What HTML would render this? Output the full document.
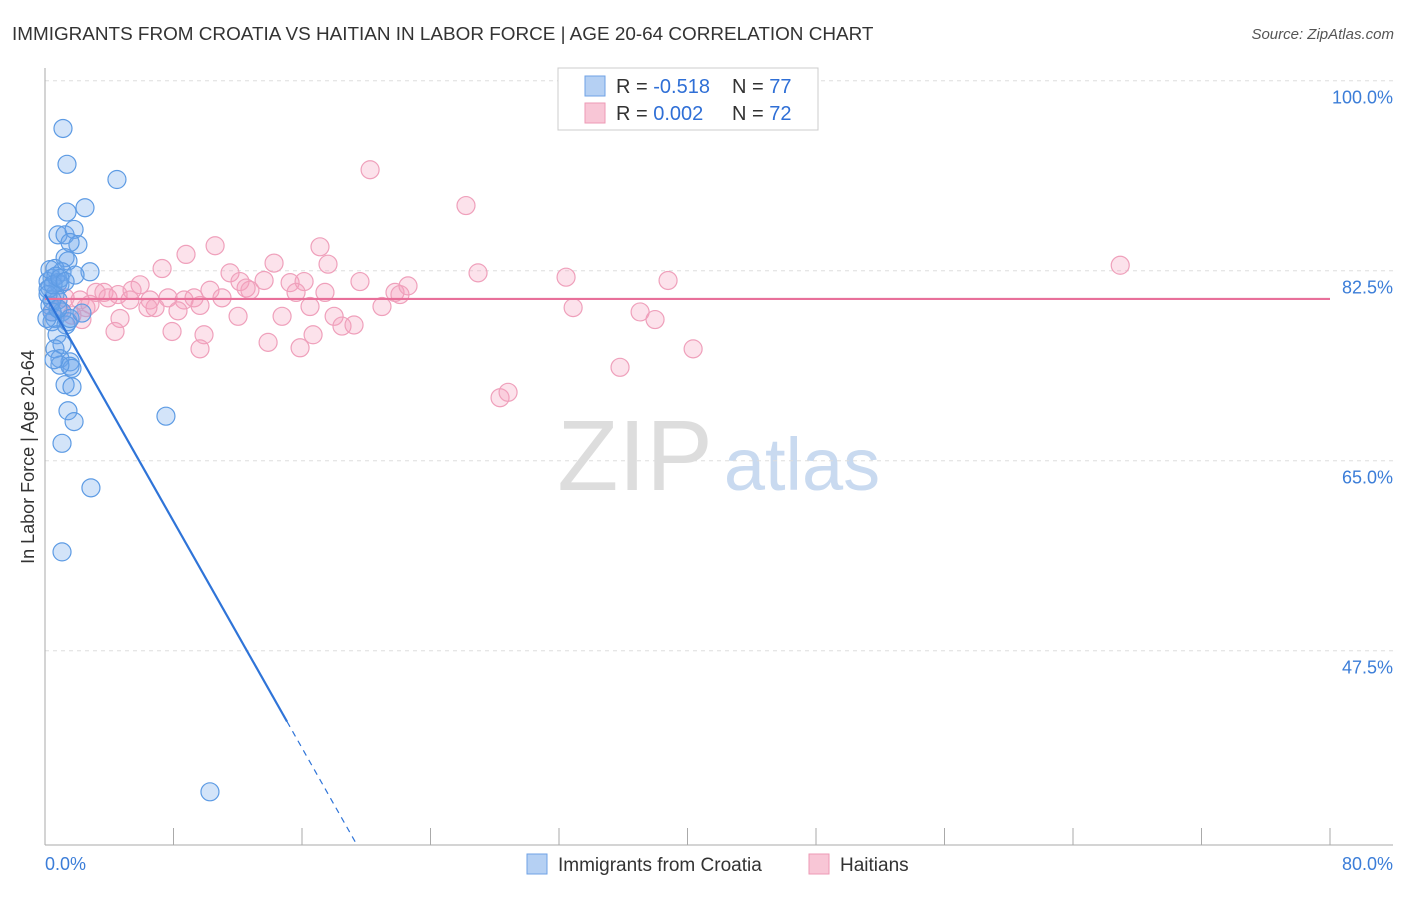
<!DOCTYPE html>
<html><head><meta charset="utf-8">
<style>
body{margin:0;background:#fff;font-family:"Liberation Sans",sans-serif;}
svg text{font-family:"Liberation Sans",sans-serif;}
</style></head>
<body>
<svg id="chart" width="1406" height="892" viewBox="0 0 1406 892" xmlns="http://www.w3.org/2000/svg">
<text x="12" y="40" font-size="18.9" fill="#333">IMMIGRANTS FROM CROATIA VS HAITIAN IN LABOR FORCE | AGE 20-64 CORRELATION CHART</text>
<text x="1394" y="39" font-size="15" fill="#555" text-anchor="end" font-style="italic">Source: ZipAtlas.com</text>
<text x="34" y="457" font-size="18" fill="#333" text-anchor="middle" transform="rotate(-90 34 457)">In Labor Force | Age 20-64</text>
<g>
<text x="635" y="490" font-size="100" fill="#ddd" text-anchor="middle" font-family="Liberation Serif,serif">ZIP</text>
<text x="802" y="490" font-size="74" fill="#c9daf0" text-anchor="middle">atlas</text>
</g>
<g id="grid"></g>
<g id="axes"></g>
<g id="pts"></g>
<g id="lines"></g>
<g>
<rect x="558" y="68" width="260" height="62" fill="#fff" stroke="#ccc"/>
<rect x="585" y="76" width="20" height="20" fill="#b5d0f3" stroke="#6fa2e6"/>
<text x="616" y="93" font-size="20" fill="#333">R = <tspan fill="#2f6fd6">-0.518</tspan></text>
<text x="732" y="93" font-size="20" fill="#333">N = <tspan fill="#2f6fd6">77</tspan></text>
<rect x="585" y="103" width="20" height="20" fill="#f8c6d6" stroke="#ee9ab5"/>
<text x="616" y="120" font-size="20" fill="#333">R = <tspan fill="#2f6fd6"> 0.002</tspan></text>
<text x="732" y="120" font-size="20" fill="#333">N = <tspan fill="#2f6fd6">72</tspan></text>
</g>
<g>
<rect x="527" y="854" width="20" height="20" fill="#b5d0f3" stroke="#6fa2e6"/>
<text x="558" y="871" font-size="19" fill="#333">Immigrants from Croatia</text>
<rect x="809" y="854" width="20" height="20" fill="#f8c6d6" stroke="#ee9ab5"/>
<text x="840" y="871" font-size="19" fill="#333">Haitians</text>
</g>
</svg>
<script>
const yTicks=[100,82.5,65,47.5];
const yTickLabels=["100.0%","82.5%","65.0%","47.5%"];
const xTickLabels=["0.0%","80.0%"];
const croatiaX=[1.12,1.37,4.48,1.37,2.49,0.81,1.25,1.81,2.05,1.56,1.25,1.43,0.62,1.06,2.80,1.87,0.44,0.81,0.31,0.93,0.62,0.81,0.31,1.06,0.62,0.44,1.31,1.43,1.56,2.30,0.75,1.06,0.62,1.56,0.93,1.56,1.68,0.93,0.56,1.25,1.68,1.43,1.81,1.06,7.53,2.86,1.06,10.27,0.44,0.19,0.19,0.31,0.68,0.44,0.19,0.5,0.93,1.25,0.12,0.81];
const croatiaY=[95.6,92.3,90.9,87.9,88.3,85.8,85.8,86.3,84.9,85.1,83.7,83.4,82.7,82.4,82.4,82.1,81.8,81.4,80.9,81.2,80.3,79.8,79.3,78.7,78.1,77.8,77.5,77.8,78.1,78.6,76.6,75.7,75.3,74.1,74.4,73.7,73.5,73.8,74.3,72.0,71.8,69.6,68.6,66.6,69.1,62.5,56.6,34.5,79.8,81.5,80.8,82.6,82.0,78.7,80.3,81.2,81.8,81.5,78.1,79.0];
const haitiX=[20.24,26.21,8.78,10.59,17.12,7.29,14.26,17.62,11.52,26.96,32.44,38.79,66.94,5.92,3.18,3.67,4.55,5.42,6.54,7.66,8.66,9.28,10.27,11.02,12.14,12.76,13.64,15.26,16.13,15.63,17.43,19.61,21.79,22.10,22.60,4.67,6.85,6.41,8.28,9.65,12.02,14.76,18.0,20.98,32.88,37.05,37.98,4.36,7.91,9.9,9.65,13.89,15.88,16.69,18.49,19.24,40.35,35.8,28.33,28.83,2.18,1.68,2.55,2.80,0.93,1.25,2.30,3.92,5.29,12.52,16.5,0.44];
const haitiY=[91.8,88.5,84.0,84.8,84.7,82.7,83.2,83.1,82.3,82.3,81.9,81.6,83.0,81.2,80.5,80.5,80.3,80.7,79.8,80.0,79.8,80.0,80.7,80.0,81.5,80.7,81.6,81.4,81.5,80.5,80.5,81.5,80.5,80.3,81.1,78.1,79.1,79.1,78.8,79.3,78.3,78.3,78.3,79.2,79.1,78.7,78.0,76.9,76.9,76.6,75.3,75.9,75.4,76.6,77.4,77.5,75.3,73.6,70.8,71.3,79.8,78.4,79.1,79.4,78.9,80.0,78.0,80.0,79.8,80.9,79.2,78.7];
const croatiaTrend=[80.3,-2.61];
const haitiTrend=[79.9,0];

const NS="http://www.w3.org/2000/svg";
const X0=45,X1=1330,XMAX=80,YTOP=80.7,PXPER=10.857,YBOT=845;
const sx=v=>X0+v*(X1-X0)/XMAX;
const sy=v=>YTOP+(100-v)*PXPER;
const yMin=100-(YBOT-YTOP)/PXPER;
function mk(tag,attrs,parent){const e=document.createElementNS(NS,tag);for(const k in attrs)e.setAttribute(k,attrs[k]);parent.appendChild(e);return e;}
const grid=document.getElementById('grid'),axes=document.getElementById('axes'),pts=document.getElementById('pts'),lines=document.getElementById('lines');
yTicks.forEach((t,i)=>{
 const l=mk('line',{x1:X0,x2:1393,y1:sy(t),y2:sy(t),stroke:'#ddd','stroke-dasharray':'4 4'},grid);
 
 
 const tx=mk('text',{x:1393,y:sy(t)+23,'font-size':18,fill:'#3b7dd8','text-anchor':'end'},axes);
 tx.textContent=yTickLabels[i];
 
 
});
const ya=mk('line',{x1:X0,x2:X0,y1:68,y2:YBOT,stroke:'#aaa'},axes);


const xa=mk('line',{x1:X0,x2:1393,y1:YBOT,y2:YBOT,stroke:'#aaa'},axes);


for(let i=0;i<=10;i++){
 const v=i*8;
 const t=mk('line',{x1:sx(v),x2:sx(v),y1:828,y2:YBOT,stroke:'#aaa'},axes);
 
 
}
[[0,'start',X0],[1,'end',1393]].forEach(([i,a,x])=>{
 const tx=mk('text',{x:x,y:870,'font-size':18,fill:'#3b7dd8','text-anchor':a},axes);
 tx.textContent=xTickLabels[i];
 
 
});
haitiX.forEach((x,i)=>{
 const c=mk('circle',{cx:sx(x),cy:sy(haitiY[i]),r:9,fill:'rgba(244,160,190,0.3)',stroke:'#efa0bb','stroke-width':1.2},pts);
 
 
});
croatiaX.forEach((x,i)=>{
 const c=mk('circle',{cx:sx(x),cy:sy(croatiaY[i]),r:9,fill:'rgba(110,165,235,0.3)',stroke:'#5d9be4','stroke-width':1.2},pts);
 
 
});
const hl=mk('line',{x1:sx(0),x2:sx(80),y1:sy(haitiTrend[0]),y2:sy(haitiTrend[0]+haitiTrend[1]*80),stroke:'#e8709a','stroke-width':2.2},lines);


const xs=15.07, xe=(yMin-croatiaTrend[0])/croatiaTrend[1];
const cf=v=>croatiaTrend[0]+croatiaTrend[1]*v;
const cl=mk('line',{x1:sx(0),y1:sy(cf(0)),x2:sx(xs),y2:sy(cf(xs)),stroke:'#2f74d8','stroke-width':2.2},lines);


const cd=mk('line',{x1:sx(xs),y1:sy(cf(xs)),x2:sx(xe),y2:sy(cf(xe)),stroke:'#2f74d8','stroke-width':1.2,'stroke-dasharray':'6 5'},lines);


</script>
</body></html>
